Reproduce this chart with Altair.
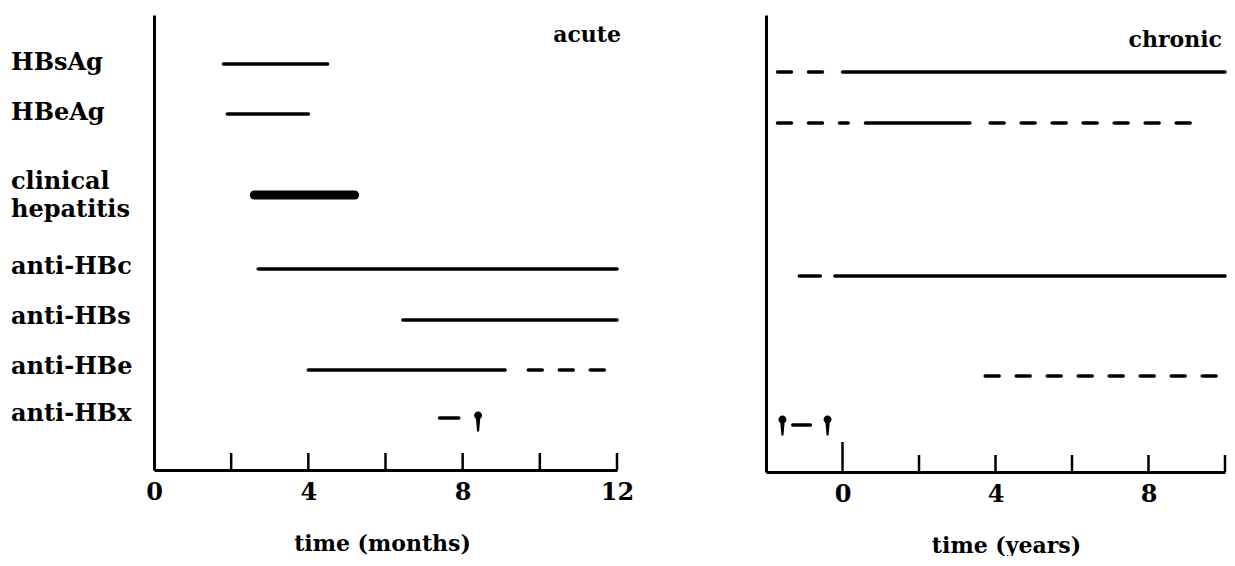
import altair as alt
import pandas as pd

FONT = "DejaVu Serif"

# ---------------- row labels (left of the acute panel) ----------------
row_labels = ["HBsAg", "HBeAg", "clinical\nhepatitis", "anti-HBc", "anti-HBs", "anti-HBe", "anti-HBx"]
row_label_pos = [0.96, 1.96, 3.33, 5.03, 6.03, 7.03, 7.97]

# ---------------- acute infection (time in months) ----------------
acute_marker = ["HBsAg", "HBeAg", "clinical hepatitis", "anti-HBc", "anti-HBs",
                "anti-HBe", "anti-HBe", "anti-HBx"]
acute_start = [1.8, 1.9, 2.6, 2.7, 6.45, 4.0, 9.7, 7.4]
acute_end = [4.5, 4.0, 5.2, 12.0, 12.0, 9.1, 12.0, 7.9]
acute_kind = ["solid", "solid", "thick", "solid", "solid", "solid", "dashed", "solid"]
acute_row = [0.98, 1.98, 3.6, 5.08, 6.1, 7.1, 7.1, 8.06]
acute_pin_x = [8.4]
acute_pin_row = [8.06]
acute_ticks = [2, 4, 6, 8, 10, 12]
acute_onset_ticks = []
acute_tick_labels = [0, 4, 8, 12]

# ---------------- chronic infection (time in years) ----------------
chronic_marker = ["HBsAg", "HBsAg", "HBeAg", "HBeAg", "HBeAg",
                  "anti-HBc", "anti-HBc", "anti-HBe", "anti-HBx"]
chronic_start = [-1.7, 0.0, -1.7, 0.6, 3.86, -1.13, -0.2, 3.73, -1.3]
chronic_end = [-0.45, 10.0, 0.15, 3.33, 9.25, -0.58, 10.0, 10.0, -0.84]
chronic_kind = ["dashed", "solid", "dashed", "solid", "dashed",
                "solid", "solid", "dashed", "solid"]
chronic_row = [1.14, 1.14, 2.16, 2.16, 2.16, 5.22, 5.22, 7.22, 8.2]
chronic_pin_x = [-1.57, -0.39]
chronic_pin_row = [8.14, 8.14]
chronic_ticks = [2, 4, 6, 8, 10]
chronic_onset_ticks = [0]
chronic_tick_labels = [0, 4, 8]

PIN_SHAPE = ("M-0.4,-0.25A0.4,0.4,0,1,1,0.4,-0.25A0.4,0.4,0,1,1,-0.4,-0.25Z"
             "M-0.22,0L0.22,0L0.1,1.35L-0.1,1.35Z")


def panel(marker, start, end, kind, row, pin_x, pin_row, ticks, onset_ticks,
          tick_labels, domain, width, height, ymax, title, title_x, title_y,
          axis_title, axis_title_x, with_labels=False):
    seg = pd.DataFrame(dict(marker=marker, x=start, x2=end, kind=kind, row=row))
    xscale = alt.Scale(domain=domain, nice=False, zero=False)
    yscale = alt.Scale(domain=[0, ymax], reverse=True, nice=False, zero=False)
    x_axis = alt.Axis(values=tick_labels, ticks=False, tickSize=0, grid=False,
                      title=axis_title, format="d", labelFlush=False,
                      titleX=axis_title_x)
    y_axis = alt.Axis(labels=False, ticks=False, tickSize=0, grid=False, title=None)

    base = alt.Chart(seg).encode(
        x=alt.X("x:Q", scale=xscale, axis=x_axis),
        x2="x2:Q",
        y=alt.Y("row:Q", scale=yscale, axis=y_axis),
    )
    solid = base.transform_filter(alt.datum.kind == "solid").mark_rule(
        strokeWidth=3.5, strokeCap="round", color="black")
    thick = base.transform_filter(alt.datum.kind == "thick").mark_rule(
        strokeWidth=9, strokeCap="round", color="black")
    dashed = base.transform_filter(alt.datum.kind == "dashed").mark_rule(
        strokeWidth=3.5, strokeCap="round", color="black", strokeDash=[14, 17])

    layers = [solid, thick, dashed]

    pins = alt.Chart(pd.DataFrame(dict(x=pin_x, row=pin_row))).mark_point(
        shape=PIN_SHAPE, size=400, filled=True, color="black", opacity=1, strokeWidth=0
    ).encode(x=alt.X("x:Q"), y=alt.Y("row:Q"))
    layers.append(pins)

    tick_marks = alt.Chart(pd.DataFrame(dict(x=ticks))).mark_rule(
        strokeWidth=2.5, color="black"
    ).encode(x=alt.X("x:Q"), y=alt.value(height), y2=alt.value(height - 17))
    layers.append(tick_marks)

    if onset_ticks:
        onset = alt.Chart(pd.DataFrame(dict(x=onset_ticks))).mark_rule(
            strokeWidth=2.5, color="black"
        ).encode(x=alt.X("x:Q"), y=alt.value(height), y2=alt.value(height - 30))
        layers.append(onset)

    ttl = alt.Chart(pd.DataFrame(dict(t=[title]))).mark_text(
        font=FONT, fontSize=22, fontWeight="bold", align="right",
        baseline="middle", color="black"
    ).encode(text="t:N", x=alt.value(title_x), y=alt.value(title_y))
    layers.append(ttl)

    if with_labels:
        lab = alt.Chart(pd.DataFrame(dict(label=row_labels, row=row_label_pos))).mark_text(
            font=FONT, fontSize=24, fontWeight="bold", align="left",
            baseline="middle", color="black", lineBreak="\n", lineHeight=28
        ).encode(text="label:N", x=alt.value(-143), y=alt.Y("row:Q"))
        layers.append(lab)

    return alt.layer(*layers).properties(width=width, height=height)


acute = panel(acute_marker, acute_start, acute_end, acute_kind, acute_row,
              acute_pin_x, acute_pin_row, acute_ticks, acute_onset_ticks,
              acute_tick_labels, [0, 12], 463, 455, 9.1, "acute", 467, 20,
              "time (months)", 228, with_labels=True)

chronic = panel(chronic_marker, chronic_start, chronic_end, chronic_kind, chronic_row,
                chronic_pin_x, chronic_pin_row, chronic_ticks, chronic_onset_ticks,
                chronic_tick_labels, [-2, 10], 459, 457, 9.14, "chronic", 456, 25,
                "time (years)", 240)

chart = alt.hconcat(acute, chronic, spacing=149, bounds="flush").properties(
    padding={"left": 3, "top": 7, "right": 0, "bottom": 0}
).configure_view(stroke=None).configure_axis(
    domainColor="black", domainWidth=3,
    labelFont=FONT, labelFontSize=24, labelFontWeight="bold", labelColor="black",
    labelPadding=10,
    titleFont=FONT, titleFontSize=22, titleFontWeight="bold", titleColor="black",
    titlePadding=29,
)

chart.save("out.html", embed_options={"renderer": "svg", "actions": False})
